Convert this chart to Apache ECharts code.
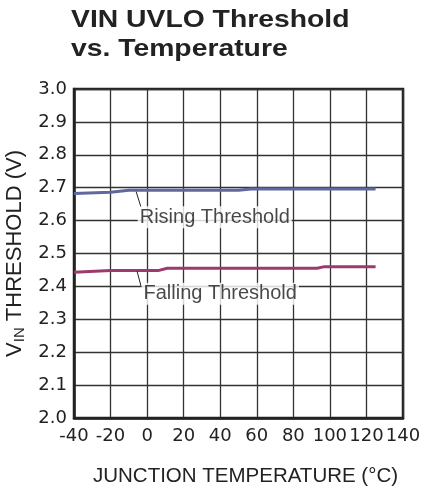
<!DOCTYPE html>
<html><head><meta charset="utf-8">
<script src="https://cdn.jsdelivr.net/npm/echarts@6/dist/echarts.min.js"></script>
<style>html,body{margin:0;padding:0;background:#fff}#c{width:427px;height:488px}</style>
</head><body><div id="c"></div>
<script>
const xTicks = [-40,-20,0,20,40,60,80,100,120,140];
const yTicks = [2.0,2.1,2.2,2.3,2.4,2.5,2.6,2.7,2.8,2.9,3.0];
const risingTemp = [-40,-20,-10,50,57,125];
const risingV    = [2.682,2.686,2.692,2.692,2.696,2.696];
const fallingTemp = [-40,-20,6,11,93,97,125];
const fallingV    = [2.443,2.448,2.448,2.455,2.455,2.46,2.46];
const risingLabel = {text:'Rising Threshold', x:37, y:2.61};
const fallingLabel = {text:'Falling Threshold', x:40, y:2.378};
const risingLeader = [[-6,2.688],[-3.3,2.64]];
const fallingLeader = [[-5.5,2.446],[-3.3,2.40]];

const font = '"Liberation Sans", Arial, Helvetica, sans-serif';
const tickFont = '"DejaVu Sans", sans-serif';
const chart = echarts.init(document.getElementById('c'));
function pts(xs, ys){ return xs.map((x,i)=>[x, ys[i]]); }
function labelSeries(l){
  return {type:'scatter', data:[[l.x,l.y]], symbolSize:0, silent:true, z:5,
    label:{show:true, position:'inside', formatter:l.text, color:'#1a1a1a',
      textBorderWidth:0, fontFamily:font, fontSize:20, backgroundColor:'#fff', padding:[1,2,1,2]}};
}
function leaderSeries(d){
  return {type:'line', data:d, symbol:'none', silent:true, z:4,
    lineStyle:{color:'#222', width:1}};
}
chart.setOption({
  animation:false,
  graphic:[
    {type:'text', left:71, top:8, scaleX:1.18, style:{text:'VIN UVLO Threshold', font:'bold 24px '+font, fill:'#222'}},
    {type:'text', left:71, top:37, scaleX:1.18, style:{text:'vs. Temperature', font:'bold 24px '+font, fill:'#222'}}
  ],
  grid:{left:74, right:24, top:89, bottom:70, outerBoundsMode:'none', containLabel:false, show:true, borderColor:'#222', borderWidth:2.5, backgroundColor:'transparent'},
  xAxis:{type:'value', min:xTicks[0], max:xTicks[xTicks.length-1], interval:20,
    name:'JUNCTION TEMPERATURE (°C)', nameLocation:'middle', nameGap:48,
    nameTextStyle:{fontFamily:font, fontSize:20.5, color:'#222', padding:[0,0,0,14]},
    axisLine:{show:true, onZero:false, lineStyle:{color:'#222', width:2.5}},
    axisTick:{show:false},
    axisLabel:{fontFamily:tickFont, fontSize:18, color:'#222', margin:9},
    splitLine:{show:true, lineStyle:{color:'#333', width:1.3}}},
  yAxis:{type:'value', min:yTicks[0], max:yTicks[yTicks.length-1], interval:0.1,
    name:'{v|V}{sub|IN}{v| THRESHOLD (V)}', nameLocation:'middle', nameGap:36,
    nameTextStyle:{padding:[0,0,8,0], rich:{v:{fontFamily:font, fontSize:22, color:'#222'}, sub:{fontFamily:font, fontSize:15, color:'#222', padding:[10,0,0,0]}}},
    axisLine:{show:true, onZero:false, lineStyle:{color:'#222', width:2.5}},
    axisTick:{show:false},
    axisLabel:{fontFamily:tickFont, fontSize:18, color:'#222', margin:7, formatter:v=>v.toFixed(1)},
    splitLine:{show:true, lineStyle:{color:'#333', width:1.3}}},
  series:[
    {type:'line', data:pts(risingTemp,risingV), symbol:'none', z:3, lineStyle:{color:'#6068a0', width:3}},
    {type:'line', data:pts(fallingTemp,fallingV), symbol:'none', z:3, lineStyle:{color:'#9c3a6e', width:3}},
    leaderSeries(risingLeader), leaderSeries(fallingLeader),
    labelSeries(risingLabel), labelSeries(fallingLabel)
  ]
});
</script></body></html>
